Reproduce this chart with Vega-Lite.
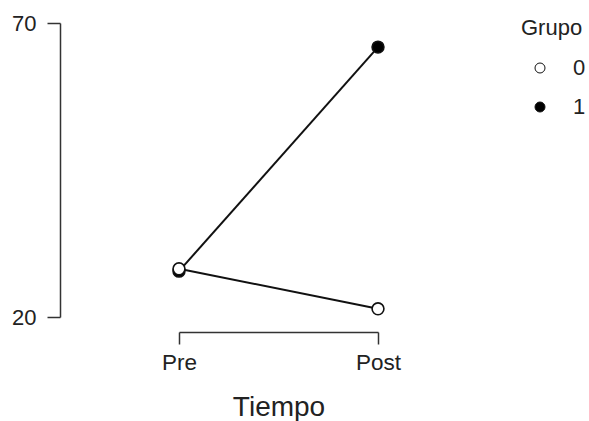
{
  "$schema": "https://vega.github.io/schema/vega-lite/v6.json",
  "autosize": {"type": "none"},
  "padding": {"left": 179, "top": 23, "right": 211, "bottom": 104},
  "width": 199,
  "height": 294,
  "background": "white",
  "data": {
    "values": [
      {"Tiempo": "Pre", "Grupo": "1", "valor": 27.8},
      {"Tiempo": "Post", "Grupo": "1", "valor": 65.9},
      {"Tiempo": "Pre", "Grupo": "0", "valor": 28.2},
      {"Tiempo": "Post", "Grupo": "0", "valor": 21.4}
    ]
  },
  "encoding": {
    "x": {
      "field": "Tiempo",
      "type": "nominal",
      "sort": ["Pre", "Post"],
      "scale": {"type": "point", "padding": 0},
      "axis": {
        "title": "Tiempo",
        "labelAngle": 0,
        "offset": 15,
        "tickSize": 12,
        "labelPadding": 7,
        "labelFontSize": 22.5,
        "titleFontSize": 28,
        "titlePadding": 20
      }
    },
    "y": {
      "field": "valor",
      "type": "quantitative",
      "scale": {"domain": [20, 70], "nice": false, "zero": false},
      "axis": {
        "title": null,
        "values": [20, 70],
        "offset": 119,
        "tickSize": 13,
        "labelPadding": 11,
        "labelFontSize": 22
      }
    }
  },
  "layer": [
    {
      "mark": {"type": "line", "color": "#111111", "strokeWidth": 2},
      "encoding": {"detail": {"field": "Grupo"}}
    },
    {
      "mark": {"type": "point", "shape": "circle", "filled": false, "stroke": "#111111", "strokeWidth": 1.6, "size": 140, "opacity": 1},
      "encoding": {
        "fill": {
          "field": "Grupo",
          "type": "nominal",
          "scale": {"domain": ["0", "1"], "range": ["white", "black"]},
          "legend": {
            "title": "Grupo",
            "orient": "none",
            "legendX": 342,
            "legendY": -5,
            "symbolType": "circle",
            "symbolSize": 100,
            "symbolStrokeColor": "#111111",
            "symbolStrokeWidth": 1,
            "symbolOffset": 8,
            "labelOffset": 22,
            "rowPadding": 17,
            "titlePadding": 17,
            "titleFontSize": 22,
            "titleFontWeight": "normal",
            "labelFontSize": 22
          }
        }
      }
    }
  ],
  "config": {
    "font": "Liberation Sans",
    "view": {"stroke": null},
    "axis": {
      "grid": false,
      "domainColor": "#333333",
      "domainWidth": 1.5,
      "tickColor": "#333333",
      "tickWidth": 1.5,
      "labelColor": "#222222",
      "titleColor": "#222222",
      "labelFont": "Liberation Sans",
      "titleFont": "Liberation Sans",
      "titleFontWeight": "normal"
    },
    "legend": {
      "labelColor": "#222222",
      "titleColor": "#222222",
      "labelFont": "Liberation Sans",
      "titleFont": "Liberation Sans"
    }
  }
}
